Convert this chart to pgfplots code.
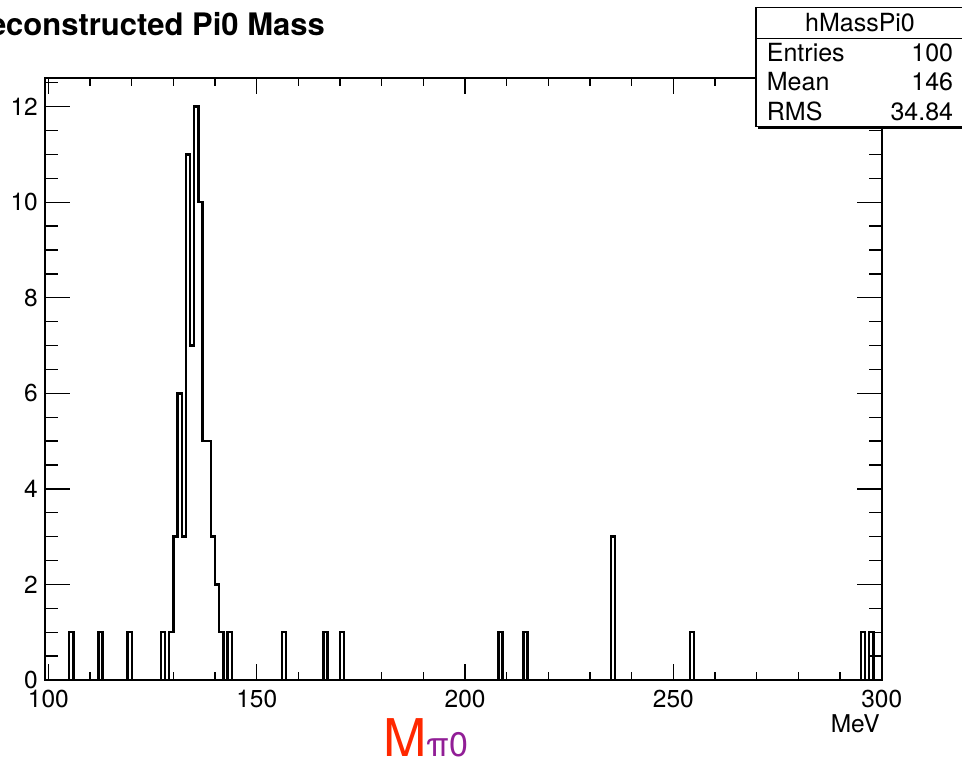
\documentclass[border=0pt]{standalone}
\usepackage{pgfplots}
\pgfplotsset{compat=1.18}
\usepackage{fontspec}
\setmainfont{TeX Gyre Heros}
\definecolor{mred}{RGB}{255,40,0}
\definecolor{mpurple}{RGB}{145,30,150}

\begin{document}
\begin{tikzpicture}[x=1pt,y=1pt]
\pgfplotsset{
  rootframe/.style={
    at={(45pt,83pt)}, anchor=south west, scale only axis,
    width=836.7pt, height=602pt,
    xmin=99.18, xmax=300, ymin=0, ymax=12.6,
    axis line style={line width=2.2pt},
    tick align=inside, xtick pos=both, ytick pos=both,
    every tick/.style={black, line width=1.4pt},
    tick label style={font=\fontsize{24.5}{28}\selectfont},
    /pgf/number format/assume math mode=true,
  }
}
% y ticks
\begin{axis}[rootframe, xtick=\empty,
  ytick={0,2,4,6,8,10,12},
  minor ytick={0.5,1,1.5,2.5,3,3.5,4.5,5,5.5,6.5,7,7.5,8.5,9,9.5,10.5,11,11.5,12.5},
  major tick length=25pt, minor tick length=12.5pt,
  y tick label style={anchor=east, inner sep=0pt, xshift=-7pt}]
\end{axis}
% x ticks + histogram
\begin{axis}[rootframe, ytick=\empty,
  xtick={100,150,200,250,300},
  minor xtick={110,120,130,140,160,170,180,190,210,220,230,240,260,270,280,290},
  major tick length=16pt, minor tick length=8pt,
  x tick label style={anchor=north, inner sep=0pt, yshift=-10pt}]
\addplot[const plot, black, line width=2.4pt, line join=miter] coordinates {
 (100,0) (105,1) (106,0) (112,1) (113,0) (119,1) (120,0)
 (127,1) (128,0) (129,1) (130,3) (131,6) (132,3) (133,11) (134,7)
 (135,12) (136,10) (137,5) (138,5) (139,3) (140,2) (141,1) (142,0)
 (143,1) (144,0) (156,1) (157,0) (166,1) (167,0) (170,1) (171,0)
 (208,1) (209,0) (214,1) (215,0) (235,3) (236,0) (254,1) (255,0)
 (295,1) (296,0) (297,1) (298,0) (300,0)};
\end{axis}
% title (clipped at the left edge)
\node[anchor=base east, inner sep=0pt, font=\fontsize{31}{34}\selectfont\bfseries] at (325,727.3) {Reconstructed Pi0 Mass};
% stats box
\fill[black] (758,633.5) rectangle (975,637.5);
\draw[line width=1.5pt, fill=white] (756,636.5) rectangle (975,755.7);
\draw[line width=1.5pt] (756,724.7) -- (975,724.7);
\begin{scope}[every node/.style={inner sep=0pt, font=\fontsize{25}{29}\selectfont}]
\node[anchor=base] at (860,731.3) {hMassPi0};
\node[anchor=base west] at (766.7,701.5) {Entries};
\node[anchor=base east] at (953.3,701.5) {100};
\node[anchor=base west] at (766.7,672) {Mean};
\node[anchor=base east] at (953.3,672) {146};
\node[anchor=base west] at (766.7,642.5) {RMS};
\node[anchor=base east] at (953.3,642.5) {34.84};
\end{scope}
% axis titles
\node[anchor=base east, inner sep=0pt, font=\fontsize{24.5}{28}\selectfont] at (880,30) {MeV};
\node[anchor=base west, inner sep=0pt] at (383,6) {\fontsize{52}{56}\selectfont\color{mred}M\fontsize{34}{40}\selectfont\color{mpurple}π0};
\pgfresetboundingbox
\useasboundingbox (0,0) rectangle (962,763);
\end{tikzpicture}
\end{document}
